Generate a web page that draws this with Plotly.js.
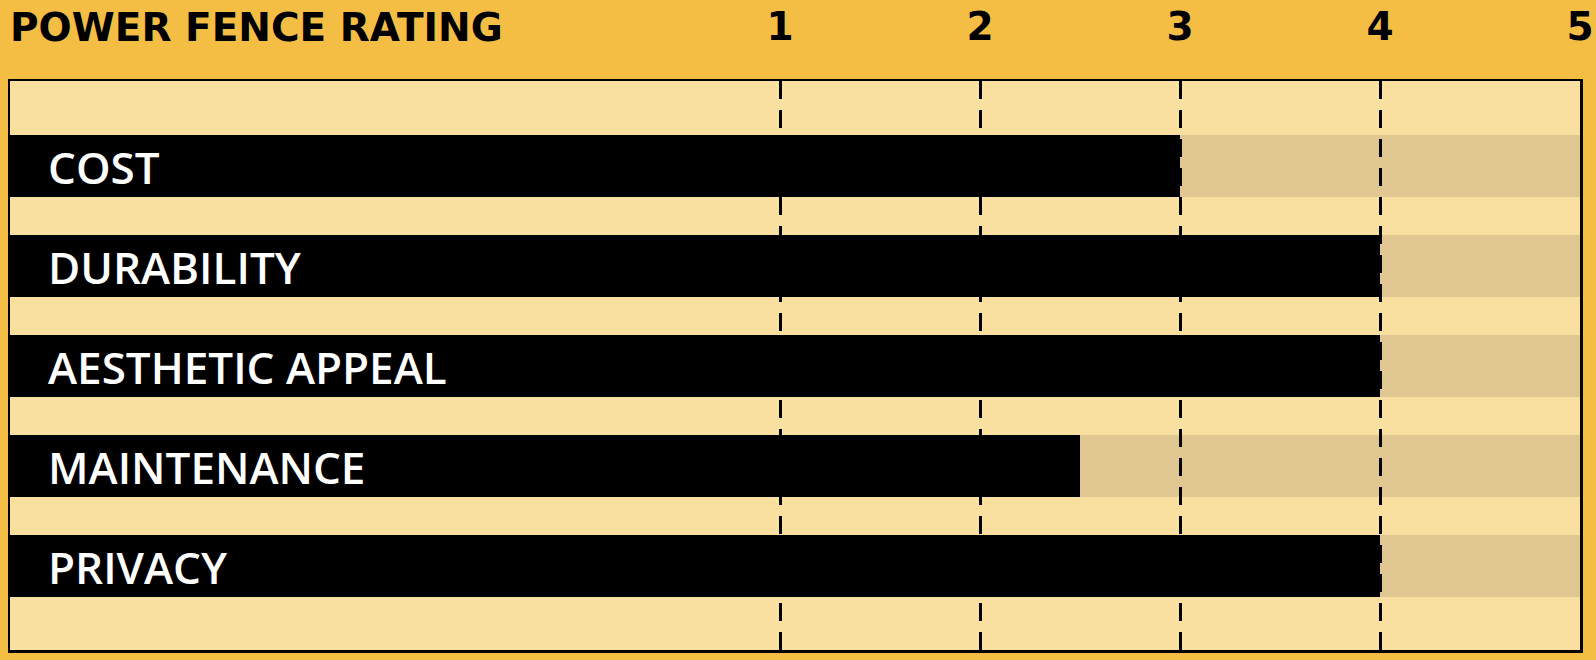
<!DOCTYPE html>
<html>
<head>
<meta charset="utf-8">
<script src="https://cdn.plot.ly/plotly-3.0.1.min.js"></script>
<style>html,body{margin:0;padding:0;background:#F4BE45;}#chart{width:1596px;height:660px;}</style>
</head>
<body>
<div id="chart"></div>
<script>
// Data
const categories = ["COST", "DURABILITY", "AESTHETIC APPEAL", "MAINTENANCE", "PRIVACY"];
const ratings = [3, 4, 4, 2.5, 4];
const tickValues = [1, 2, 3, 4, 5];
const tickLabels = ["1", "2", "3", "4", "5"];
const maxRating = 5;
const chartTitle = "POWER FENCE RATING";

// Layout constants
const X_MIN = -2.85;
const BAR_W = 0.62;
const ORANGE = "#F4BE45";
const LIGHT = "#F9DFA0";
const TAN = "#E0C791";
const HEAVY = {family: "DejaVu Sans", size: 39, color: "#000000", weight: 700};

const idx = categories.map((c, i) => i);

const barTrace = {
  type: "bar",
  orientation: "h",
  y: idx,
  x: ratings.map(v => v - X_MIN),
  base: X_MIN,
  width: BAR_W,
  marker: {color: "#000000", line: {width: 0}},
  hoverinfo: "skip",
  showlegend: false
};

const shapes = idx.map(i => ({
  type: "rect", layer: "below", xref: "x", yref: "y",
  x0: X_MIN, x1: maxRating, y0: i - BAR_W / 2, y1: i + BAR_W / 2,
  fillcolor: TAN, line: {width: 0}
}));

const annotations = idx.map(i => ({
  x: X_MIN, y: i, xref: "x", yref: "y",
  text: categories[i], showarrow: false,
  xanchor: "left", yanchor: "middle", xshift: 36, yshift: -1,
  font: {family: "Open Sans", size: 44, color: "#FFFFFF", weight: 600}
}));

const layout = {
  width: 1596, height: 660,
  paper_bgcolor: ORANGE,
  plot_bgcolor: LIGHT,
  margin: {l: 10, r: 16, t: 81, b: 10, pad: 0},
  title: {
    text: chartTitle,
    x: 10 / 1596, xanchor: "left", xref: "container",
    y: 1 - 27 / 660, yanchor: "middle", yref: "container",
    font: HEAVY
  },
  xaxis: {
    range: [X_MIN, maxRating],
    side: "top",
    tickmode: "array", tickvals: tickValues, ticktext: tickLabels,
    ticks: "", ticklabelstandoff: 23,
    tickfont: HEAVY,
    showgrid: true, gridcolor: "#000000", gridwidth: 3, griddash: "18px,11px",
    zeroline: false,
    showline: true, linecolor: "#000000", linewidth: 2.5, mirror: true,
    fixedrange: true
  },
  yaxis: {
    range: [categories.length - 1 + 0.84, -0.85],
    showticklabels: false, ticks: "",
    showgrid: false, zeroline: false,
    showline: true, linecolor: "#000000", linewidth: 2.5, mirror: true,
    fixedrange: true
  },
  bargap: 0,
  shapes: shapes,
  annotations: annotations,
  showlegend: false
};

Plotly.newPlot("chart", [barTrace], layout, {displayModeBar: false, staticPlot: true});
</script>
</body>
</html>
